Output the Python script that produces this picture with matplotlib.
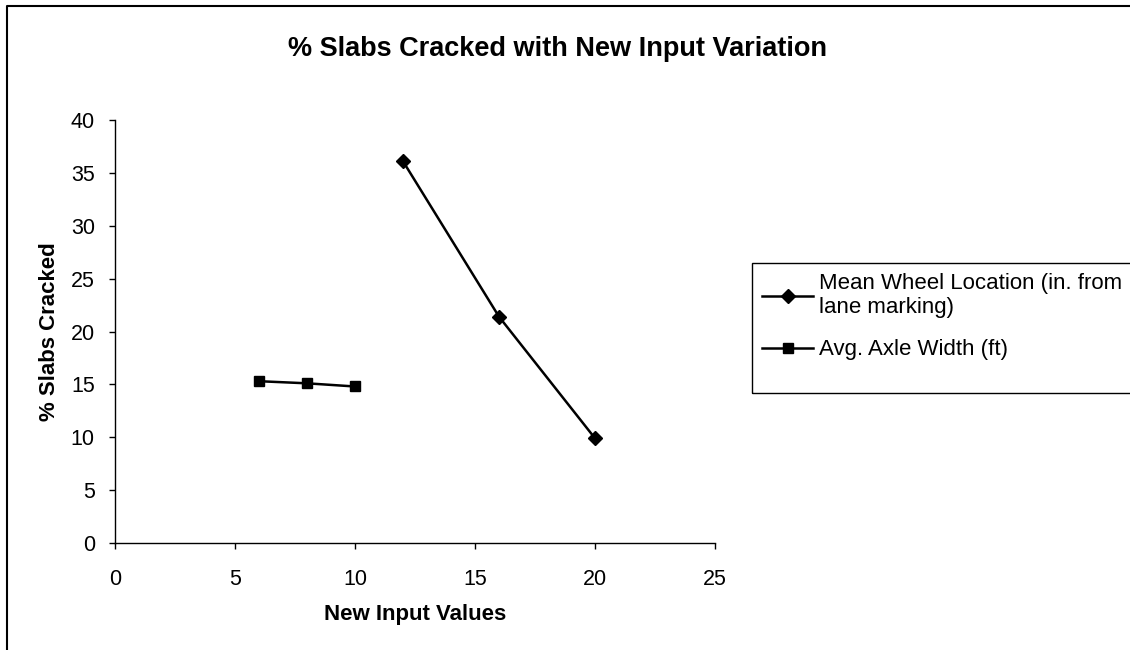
import matplotlib
matplotlib.use("Agg")
import matplotlib.pyplot as plt
from matplotlib.lines import Line2D
from matplotlib.patches import Rectangle

plt.rcParams['font.family'] = ['Liberation Sans', 'DejaVu Sans']

# ---------- DATA ----------
wheel_x = [12, 16, 20]
wheel_y = [36.1, 21.4, 9.9]
axle_x = [6, 8, 10]
axle_y = [15.3, 15.1, 14.8]

wheel_label = "Mean Wheel Location (in. from\nlane marking)"
axle_label = "Avg. Axle Width (ft)"
title = "% Slabs Cracked with New Input Variation"
xlabel = "New Input Values"
ylabel = "% Slabs Cracked"

x_ticks = [0, 5, 10, 15, 20, 25]
y_ticks = [0, 5, 10, 15, 20, 25, 30, 35, 40]

W, H = 1130, 650

# ---------- FIGURE ----------
fig = plt.figure(figsize=(W / 100, H / 100), dpi=100)
ax = fig.add_axes([115 / W, 1 - 543 / H, 600 / W, 423 / H])

ax.plot(wheel_x, wheel_y, color='black', lw=1.8, marker='D', ms=7,
        label=wheel_label)
ax.plot(axle_x, axle_y, color='black', lw=1.8, marker='s', ms=7,
        label=axle_label)

ax.set_xlim(0, 25)
ax.set_ylim(0, 40)
ax.set_xticks(x_ticks)
ax.set_yticks(y_ticks)
ax.tick_params(labelsize=15.5, length=4.5, width=1, direction='out')
ax.tick_params(axis='x', pad=14.5)
ax.tick_params(axis='y', pad=10)
for s in ['top', 'right']:
    ax.spines[s].set_visible(False)
for s in ['left', 'bottom']:
    ax.spines[s].set_linewidth(1)

ax.set_xlabel(xlabel, fontsize=16, fontweight='bold', labelpad=10)
ax.set_ylabel(ylabel, fontsize=16, fontweight='bold', labelpad=8)

fig.text(558 / W, 1 - 49 / H, title, fontsize=19.5, fontweight='bold',
         ha='center', va='center')

# legend (frame drawn separately so it can hold the empty space below)
leg = fig.legend(loc='upper left', bbox_to_anchor=(752 / W, 1 - 263 / H),
                 fontsize=16, frameon=False, handlelength=2.3,
                 handletextpad=0.25, borderpad=0.45, labelspacing=0.95,
                 borderaxespad=0)
fig.add_artist(Rectangle((752 / W, 1 - 393 / H), 400 / W, 130 / H,
                         transform=fig.transFigure, fill=False,
                         edgecolor='black', lw=1))

# outer chart border (top and left visible)
fig.add_artist(Line2D([7 / W, 7 / W, 1.0], [0.0, 1 - 6 / H, 1 - 6 / H],
                      transform=fig.transFigure, color='black', lw=1.5))

fig.savefig("out.png", dpi=100)
